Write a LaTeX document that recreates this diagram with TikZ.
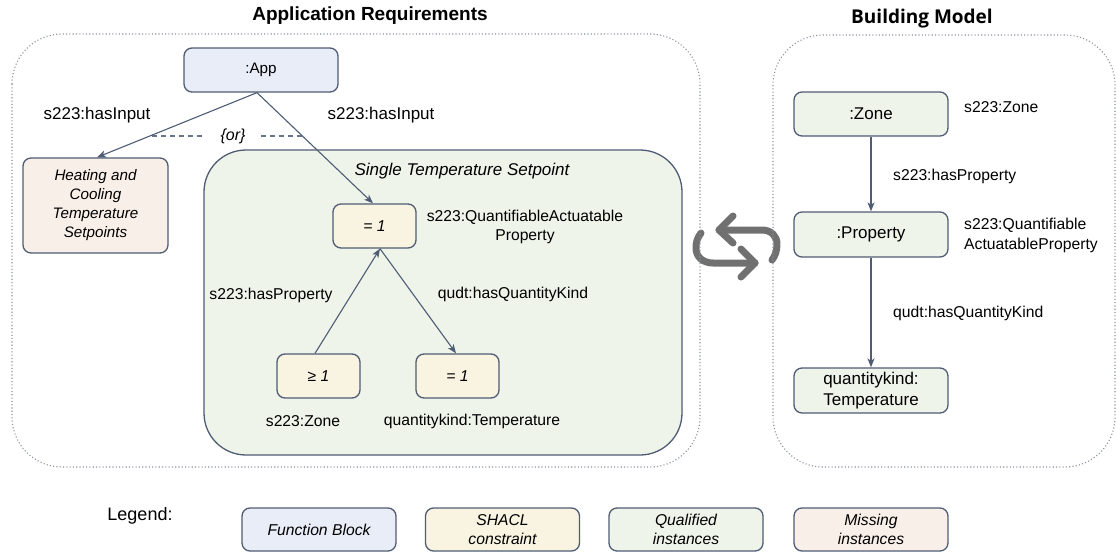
\documentclass[tikz,border=0pt]{standalone}
\usepackage{fontspec}
\setmainfont{Liberation Sans}
\newfontfamily\headfont{Open Sans}
\usetikzlibrary{arrows.meta}

\definecolor{edgec}{HTML}{505C73}
\definecolor{arrc}{HTML}{4E5C74}
\definecolor{fbfill}{HTML}{E9EDF8}
\definecolor{shfill}{HTML}{F8F4E1}
\definecolor{qifill}{HTML}{EEF4EA}
\definecolor{mifill}{HTML}{F9EFE9}
\definecolor{dotc}{HTML}{8A929E}
\definecolor{iconc}{HTML}{707070}

\newcommand{\lblfont}{\fontsize{15.7}{19.5}\selectfont}
\newcommand{\inpfont}{\fontsize{17}{20}\selectfont}
\newcommand{\bigboxfont}{\fontsize{17}{20.7}\selectfont}
\newcommand{\titfont}{\fontsize{19}{22}\selectfont\bfseries}

\tikzset{
  box/.style={draw=edgec, line width=1.3pt, rounded corners=8pt, align=center,
    inner sep=0pt, font=\lblfont\itshape},
  fbbox/.style={box, fill=fbfill},
  shbox/.style={box, fill=shfill, minimum width=83pt, minimum height=44pt},
  qibox/.style={box, fill=qifill},
  mibox/.style={box, fill=mifill},
  bmbox/.style={qibox, minimum width=154pt, minimum height=45pt, font=\bigboxfont},
  legbox/.style={box, minimum width=154pt, minimum height=43pt, font=\lblfont\itshape\fontsize{15.7}{19}\selectfont},
  lbl/.style={inner sep=0pt, font=\lblfont, align=center},
  inp/.style={inner sep=0pt, font=\inpfont},
  arr/.style={draw=arrc, line width=1.1pt, -{Stealth[length=9pt,width=7pt,inset=2.5pt]}},
  orline/.style={draw=arrc!85, line width=1.1pt, dash pattern=on 5pt off 4pt},
  region/.style={draw=dotc, line width=1.1pt, dash pattern=on 1.1pt off 2.2pt, rounded corners=50pt},
  cyc/.style={draw=iconc, line width=7pt, line cap=round, line join=round}
}

\begin{document}
\begin{tikzpicture}[x=1pt,y=-1pt]
\useasboundingbox (0,0) rectangle (1117,552);

% ---- group titles
\node[inner sep=0pt, font=\titfont] (titleApp) at (370,16) {Application Requirements};
\node[inner sep=0pt, font=\headfont\fontsize{19}{22}\selectfont\bfseries] (titleBM) at (922,19) {Building Model};

% ---- exchange icon between the two groups
\draw[cyc] (719,230) -- (762,230) .. controls (771,230) and (777,236) .. (777,244)
           .. controls (777,251) and (775,256) .. (772,260);
\draw[cyc] (733,216) -- (719,230) -- (733,243);
\draw[cyc] (701,233) .. controls (697,238) and (696,243) .. (696,248)
           .. controls (696,257) and (703,263) .. (713,263) -- (755,263);
\draw[cyc] (741,249) -- (755,263) -- (741,277);

% ---- dotted group outlines
\draw[region] (12,34) rectangle (700,467);
\draw[region] (773,35) rectangle (1115,467);

% ---- application requirements
\draw[draw=edgec, line width=1.3pt, fill=qifill, rounded corners=42pt] (204,150) rectangle (682,455);
\node[inner sep=0pt, font=\inpfont\itshape] (stsp) at (462,171) {Single Temperature Setpoint};

\node[fbbox, minimum width=154pt, minimum height=44pt, font=\fontsize{15.2}{18}\selectfont] (app) at (261,70) {:App};
\node[mibox, minimum width=145pt, minimum height=95pt, font=\fontsize{15.2}{19}\selectfont\itshape] (heat) at (95.5,205.5)
  {Heating and\\Cooling\\Temperature\\Setpoints};

\node[shbox] (eqA) at (374.5,226) {= 1};
\node[shbox] (geZ) at (318.5,376) {≥ 1};
\node[shbox] (eqT) at (457.5,376) {= 1};

\node[inp] (inL) at (97,115) {s223:hasInput};
\node[inp] (inR) at (381,115) {s223:hasInput};
\node[inner sep=0pt, inner xsep=15pt, font=\fontsize{16}{19}\selectfont\itshape] (or) at (233,136) {\{or\}};
\coordinate (orL) at (152,136);
\coordinate (orR) at (302,136);
\draw[orline] (orL) -- (or.west);
\draw[orline] (or.east) -- (orR);

\node[lbl] (qapLbl) at (525,227) {s223:QuantifiableActuatable\\Property};
\node[lbl] (hpLbl) at (271,295) {s223:hasProperty};
\node[lbl] (hqLbl) at (513,294) {qudt:hasQuantityKind};
\node[lbl] (zLbl) at (303,421) {s223:Zone};
\node[lbl] (tLbl) at (472,421) {quantitykind:Temperature};

\draw[arr] ([xshift=-4pt]app.south) -- ([xshift=1.5pt]heat.north);
\draw[arr] ([xshift=-4pt]app.south) -- ([xshift=-1.5pt]eqA.north);
\draw[arr] ([xshift=-3.5pt]geZ.north) -- ([xshift=5.5pt]eqA.south);
\draw[arr] ([xshift=5.5pt]eqA.south) -- ([xshift=-1.5pt]eqT.north);

% ---- building model
\node[bmbox, minimum height=44pt] (zone) at (871,114) {:Zone};
\node[bmbox] (prop) at (871,234.5) {:Property};
\node[bmbox] (qk) at (871,390.5) {quantitykind:\\Temperature};

\node[lbl, anchor=west] (bzLbl) at (964,107) {s223:Zone};
\node[lbl, anchor=west, align=left] (bqLbl) at (964,235.5) {s223:Quantifiable\\ActuatableProperty};
\node[lbl, anchor=west] (bhpLbl) at (893,176) {s223:hasProperty};
\node[lbl, anchor=west] (bhqLbl) at (893,313) {qudt:hasQuantityKind};

\draw[arr] (zone.south) -- (prop.north);
\draw[arr] (prop.south) -- (qk.north);

% ---- legend
\node[inner sep=0pt, font=\fontsize{18}{21}\selectfont] (legend) at (140,516) {Legend:};
\node[legbox, fill=fbfill] (lgFB) at (319,529.5) {Function Block};
\node[legbox, fill=shfill] (lgSH) at (502.5,529.5) {SHACL\\constraint};
\node[legbox, fill=qifill] (lgQI) at (686,529.5) {Qualified\\instances};
\node[legbox, fill=mifill] (lgMI) at (871,529.5) {Missing\\instances};
\end{tikzpicture}
\end{document}
